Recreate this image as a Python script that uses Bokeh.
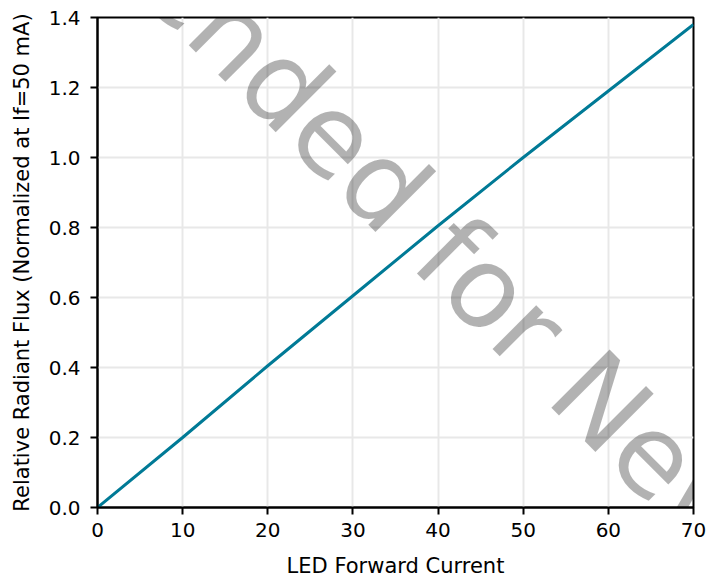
import math
from bokeh.plotting import figure
from bokeh.models import Label, FixedTicker, Range1d, NumeralTickFormatter
from bokeh.embed import file_html
from bokeh.resources import INLINE

# data
current_ma = [0, 10, 20, 30, 40, 50, 60, 70]
rel_flux = [0.0, 0.2, 0.405, 0.605, 0.805, 1.0, 1.19, 1.38]
x_ticks = [0, 10, 20, 30, 40, 50, 60, 70]
y_ticks = [0.0, 0.2, 0.4, 0.6, 0.8, 1.0, 1.2, 1.4]
watermark_text = "Not Recommended for New Designs"
watermark_pos = (31.6, 0.97)

FONT = "DejaVu Sans"

p = figure(width=706, height=580, output_backend="svg", toolbar_location=None,
           x_range=Range1d(0, 70), y_range=Range1d(0, 1.4),
           min_border_left=97, min_border_top=17, min_border_right=13, min_border_bottom=73)

p.outline_line_color = "black"
p.outline_line_width = 2
p.background_fill_color = "white"
p.border_fill_color = "white"

for g in (p.xgrid[0], p.ygrid[0]):
    g.grid_line_color = "#e8e8e8"
    g.grid_line_width = 2

p.xaxis.ticker = FixedTicker(ticks=x_ticks)
p.yaxis.ticker = FixedTicker(ticks=y_ticks)
p.yaxis.formatter = NumeralTickFormatter(format="0.0")

for ax in (p.xaxis[0], p.yaxis[0]):
    ax.axis_line_color = "black"
    ax.axis_line_width = 2
    ax.major_tick_line_color = "black"
    ax.major_tick_line_width = 2
    ax.major_tick_out = 7
    ax.major_tick_in = 0
    ax.minor_tick_line_color = None
    ax.major_label_text_font = FONT
    ax.major_label_text_font_size = "20px"
    ax.major_label_text_color = "black"
    ax.axis_label_text_font = FONT
    ax.axis_label_text_font_size = "21px"
    ax.axis_label_text_font_style = "normal"
    ax.axis_label_text_color = "black"

p.xaxis.axis_label = "LED Forward Current"
p.yaxis.axis_label = "Relative Radiant Flux (Normalized at If=50 mA)"
p.xaxis.major_label_standoff = 8
p.yaxis.major_label_standoff = 10
p.xaxis.axis_label_standoff = 14
p.yaxis.axis_label_standoff = 12

wm = Label(x=watermark_pos[0], y=watermark_pos[1], text=watermark_text,
           angle=-45, angle_units="deg", text_align="center", text_baseline="middle",
           text_font=FONT, text_font_size="113px", text_color="black", text_alpha=0.3,
           level="underlay")
p.add_layout(wm)

p.line(current_ma, rel_flux, line_color="#007a96", line_width=3)

open("out.html", "w").write(file_html(p, INLINE))
